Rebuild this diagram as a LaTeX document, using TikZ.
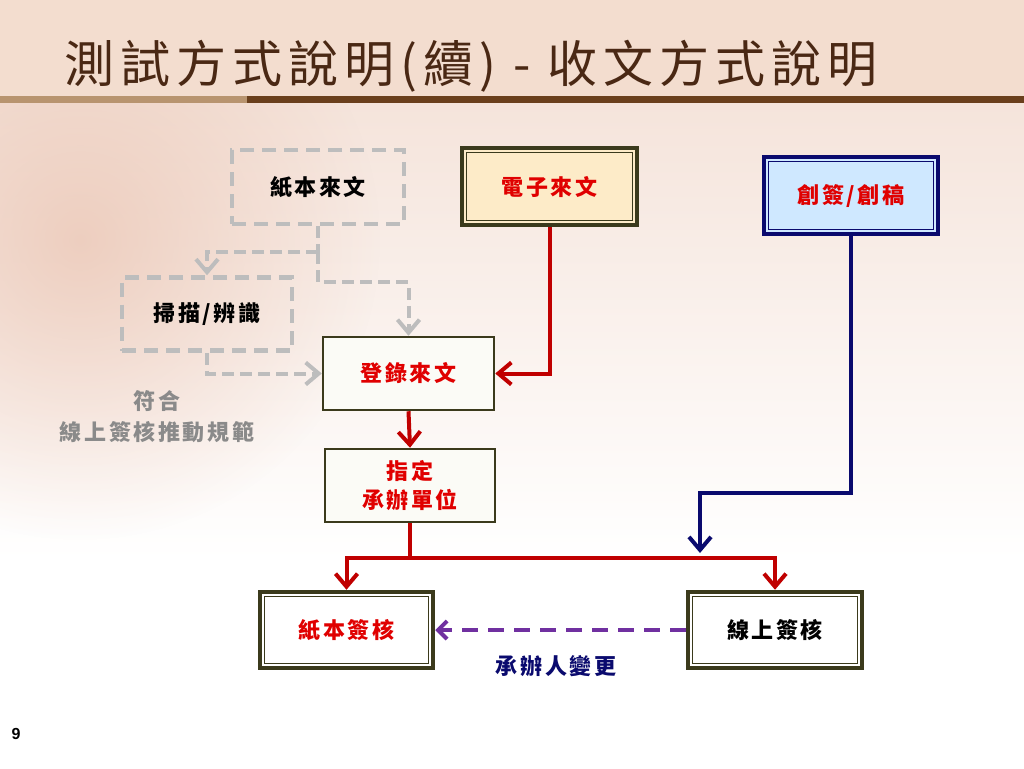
\documentclass[tikz,border=0pt]{standalone}
\usepackage{fontspec}
\usetikzlibrary{arrows.meta,calc,fadings}
\newfontfamily\cjk[LetterSpace=12]{Noto Sans CJK TC}
\newfontfamily\titlefont[LetterSpace=12]{Noto Sans CJK TC}
\newfontfamily\numfont{Liberation Sans}
\definecolor{peach}{HTML}{F3DDCF}
\definecolor{peachlt}{HTML}{F5E4DB}
\definecolor{pinkglow}{HTML}{EBC7B6}
\definecolor{barL}{HTML}{B8946F}
\definecolor{barD}{HTML}{6A3F1C}
\definecolor{titlec}{HTML}{4A2814}
\definecolor{olive}{HTML}{3B3A1C}
\definecolor{cream}{HTML}{FDEBC8}
\definecolor{navyc}{HTML}{0A0A6E}
\definecolor{lblue}{HTML}{CFE8FF}
\definecolor{redc}{HTML}{C00000}
\definecolor{textred}{HTML}{E00000}
\definecolor{dgray}{HTML}{BDBDBD}
\definecolor{purp}{HTML}{7030A0}
\definecolor{lblgray}{HTML}{8A8A8A}
\definecolor{boxw}{HTML}{FBFBF6}
\tikzfading[name=glow, inner color=transparent!0, outer color=transparent!100]
\tikzset{
  box/.style={draw=olive, line width=2.5pt, fill=boxw, inner sep=0pt, align=center,
    font=\cjk\bfseries\fontsize{22}{29}\selectfont, text=textred},
  dbox/.style={box, line width=4.5pt, path picture={\draw[#1, line width=1.5pt]
      ([shift={(4.6,-4.6)}]path picture bounding box.south west) rectangle
      ([shift={(-4.6,4.6)}]path picture bounding box.north east);}},
  gbox/.style={draw=dgray, line width=4.5pt, dash pattern=on 14pt off 8pt, inner sep=0pt,
    font=\cjk\bfseries\fontsize{22}{29}\selectfont, text=black},
  tip/.style={-{Straight Barb[length=13pt,width=22pt]}},
  redarrow/.style={draw=redc, line width=4pt, tip},
  redline/.style={draw=redc, line width=4pt},
  navyarrow/.style={draw=navyc, line width=4pt, tip},
  grayarrow/.style={draw=dgray, line width=4pt, dash pattern=on 12pt off 6pt, tip},
  purparrow/.style={draw=purp, line width=4pt, dash pattern=on 16pt off 10pt, -{Straight Barb[length=9pt,width=18pt]}},
}
\begin{document}
\begin{tikzpicture}[x=1pt,y=-1pt]
\useasboundingbox (0,0) rectangle (1024,768);
% background
\fill[white] (0,0) rectangle (1024,768);
\shade[top color=peachlt, bottom color=white] (0,103) rectangle (1024,560);
\fill[pinkglow, path fading=glow, opacity=0.8] (80,240) circle (300);
\fill[peach] (0,0) rectangle (1024,96);
\fill[barL] (0,96) rectangle (247,103);
\fill[barD] (247,96) rectangle (1024,103);
% title
\node[anchor=west, text=titlec, font=\titlefont\fontsize{50}{58}\selectfont, inner sep=0pt] (title) at (64,66) {測試方式說明(續) - 收文方式說明};
% boxes
\node[gbox, minimum width=172pt, minimum height=74pt] (paper) at (318,187) {紙本來文};
\node[gbox, minimum width=170pt, minimum height=73pt] (scan) at (207,314) {掃描/辨識};
\node[dbox=olive, fill=cream, minimum width=175pt, minimum height=77pt] (elec) at (549.5,186.5) {電子來文};
\node[dbox=navyc, draw=navyc, fill=lblue, minimum width=174pt, minimum height=77pt] (create) at (851,195.5) {創簽/創稿};
\node[box, minimum width=171pt, minimum height=73pt] (reg) at (408.5,373.5) {登錄來文};
\node[box, minimum width=170pt, minimum height=73pt] (assign) at (410,485.5) {指定\\承辦單位};
\node[dbox=olive, fill=white, minimum width=173pt, minimum height=76pt] (paperSign) at (346.5,630) {紙本簽核};
\node[dbox=olive, fill=white, text=black, minimum width=174pt, minimum height=76pt] (onlineSign) at (775,630) {線上簽核};
% labels
\node[font=\cjk\bfseries\fontsize{22}{31}\selectfont, text=lblgray, align=center] (rule) at (157,417) {符合\\線上簽核推動規範};
\node[font=\cjk\bfseries\fontsize{22}{26}\selectfont, text=navyc] (chg) at (556,666) {承辦人變更};
\node[font=\numfont\bfseries\fontsize{16}{18}\selectfont] (pg) at (16,734) {9};
% gray connectors
\coordinate (g1) at ($(paper.south)+(0,26)$);
\coordinate (g2) at ($(paper.south)+(0,56)$);
\draw[draw=dgray, line width=4pt, dash pattern=on 12pt off 6pt] (paper.south) -- (g1);
\draw[grayarrow] (g1) -| (scan.north);
\draw[grayarrow] (g1) -- (g2) -| (reg.north);
\draw[grayarrow] (scan.south) |- (reg.west);
% red connectors
\draw[redarrow] (elec.south) |- (reg.east);
\draw[redarrow] (reg.south) -- (assign.north);
\coordinate (j) at ($(assign.south)+(0,35)$);
\draw[redline] (assign.south) -- (j);
\draw[redarrow] (j) -| (paperSign.north);
\draw[redarrow] (j) -| (onlineSign.north);
% navy connector
\coordinate (nv) at (700,553);
\draw[navyarrow] (create.south) |- ($(nv)+(0,-60)$) -- (nv);
% purple connector
\draw[purparrow] (onlineSign.west) -- (paperSign.east);
\end{tikzpicture}
\end{document}
